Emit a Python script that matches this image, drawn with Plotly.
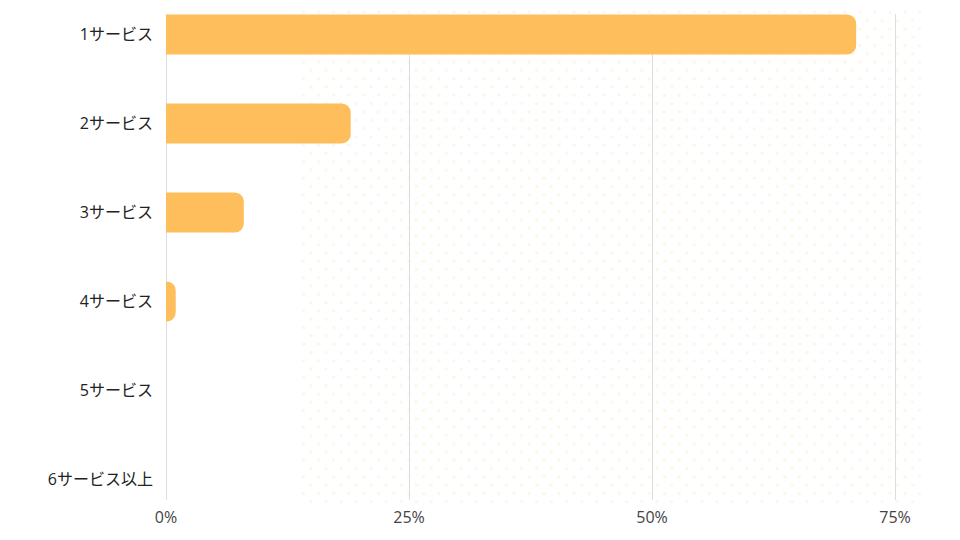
import base64
import plotly.graph_objects as go

categories = ["1サービス", "2サービス", "3サービス", "4サービス", "5サービス", "6サービス以上"]
values = [71.0, 19.0, 8.0, 1.0, 0.0, 0.0]
x_ticks = [0, 25, 50, 75]
x_tick_labels = ["0%", "25%", "50%", "75%"]

bar_color = "#FFBE5C"
font_family = "Open Sans, Noto Sans CJK JP, sans-serif"

# faint decorative dot pattern in the background
svg = (
    '<svg xmlns="http://www.w3.org/2000/svg" width="620" height="495">'
    '<defs><pattern id="p" width="15" height="16.6" patternUnits="userSpaceOnUse">'
    '<circle cx="3.75" cy="4.15" r="1.6" fill="#FFF4E8"/>'
    '<circle cx="11.25" cy="12.45" r="1.6" fill="#FFF4E8"/>'
    '</pattern></defs>'
    '<rect width="620" height="495" fill="url(#p)"/></svg>'
)
svg_uri = "data:image/svg+xml;base64," + base64.b64encode(svg.encode()).decode()

fig = go.Figure(
    go.Bar(
        x=values,
        y=categories,
        orientation="h",
        marker=dict(color=bar_color, line=dict(width=0)),
        width=0.45,
        hovertemplate="%{y}: %{x}%<extra></extra>",
    )
)

fig.update_layout(
    width=960,
    height=540,
    margin=dict(l=158, r=71, t=6, b=48),
    paper_bgcolor="white",
    plot_bgcolor="rgba(0,0,0,0)",
    barcornerradius=9,
    showlegend=False,
    font=dict(family=font_family, size=16, color="#333333"),
    images=[
        dict(
            source=svg_uri,
            xref="paper", yref="paper",
            x=0.183, y=1.012,
            sizex=0.85, sizey=1.018,
            xanchor="left", yanchor="top",
            sizing="stretch",
            layer="below",
        )
    ],
)

fig.update_xaxes(
    range=[0, 75.2],
    tickvals=x_ticks,
    ticktext=x_tick_labels,
    showgrid=True,
    gridcolor="#DDDDDD",
    gridwidth=1,
    zeroline=True,
    zerolinecolor="#DDDDDD",
    zerolinewidth=1,
    showline=False,
    ticks="",
    ticklabelstandoff=6,
    tickfont=dict(size=16, color="#444444"),
    fixedrange=True,
)

fig.update_yaxes(
    categoryorder="array",
    categoryarray=categories,
    autorange=False,
    range=[5.23, -0.23],
    showgrid=False,
    zeroline=False,
    showline=False,
    ticks="",
    ticklabelstandoff=12,
    tickfont=dict(size=16, color="#222222"),
    fixedrange=True,
)

fig.write_html("out.html")
